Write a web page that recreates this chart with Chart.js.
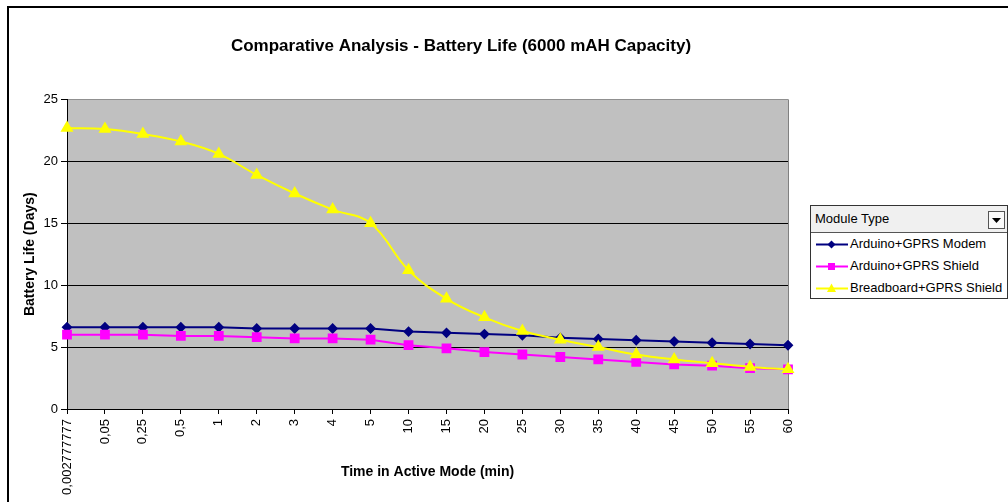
<!DOCTYPE html>
<html>
<head>
<meta charset="utf-8">
<script src="https://cdn.jsdelivr.net/npm/chart.js@4.4.1/dist/chart.umd.min.js"></script>
<style>
    html, body { margin: 0; padding: 0; background: #fff; overflow: hidden; width: 1008px; height: 502px; }
    #moldura { position: absolute; left: 7px; top: 6px; width: 1100px; height: 600px; border-left: 2px solid #000; border-top: 2px solid #000; }
    #grafico { position: absolute; left: 0; top: 0; }
    #legenda { position: absolute; left: 810px; top: 205px; width: 196px; height: 92px; border: 1px solid #333; background: #fff;
        font-family: Arial, "Liberation Sans", sans-serif; font-size: 13px; color: #000; }
    #legenda .cabecalho { height: 26px; line-height: 25px; background: #f0f0f0; border-bottom: 1px solid #555; padding-left: 4px; position: relative; }
    #legenda .botao { position: absolute; right: 2px; top: 5px; width: 15px; height: 16px; border: 1px solid #555; background: #fafafa; }
    #legenda .botao svg { position: absolute; left: 3px; top: 6px; }
    #legenda .item { height: 22px; line-height: 22px; display: flex; align-items: center; padding-left: 5px; }
    #legenda .item svg { margin-right: 2px; }
</style>
</head>
<body>
<div id="moldura"></div>
<canvas id="grafico" width="1008" height="502"></canvas>
<div id="legenda">
    <div class="cabecalho">Module Type<div class="botao"><svg width="9" height="5"><path d="M0 0 L9 0 L4.5 5 Z" fill="#000"/></svg></div></div>
    <div id="itensLegenda"></div>
</div>
<script>
const tempos = ['0,002777777', '0,05', '0,25', '0,5', '1', '2', '3', '4', '5', '10', '15', '20', '25', '30', '35', '40', '45', '50', '55', '60']
const arduinoModem = [6.6, 6.6, 6.6, 6.6, 6.6, 6.5, 6.5, 6.5, 6.5, 6.25, 6.15, 6.05, 5.95, 5.75, 5.65, 5.55, 5.45, 5.35, 5.25, 5.15]
const arduinoShield = [6.0, 6.0, 6.0, 5.9, 5.9, 5.8, 5.7, 5.7, 5.6, 5.15, 4.9, 4.6, 4.4, 4.2, 4.0, 3.8, 3.6, 3.5, 3.3, 3.2]
const breadboardShield = [22.7, 22.6, 22.2, 21.6, 20.6, 18.9, 17.4, 16.1, 15.0, 11.2, 8.9, 7.4, 6.3, 5.6, 5.0, 4.4, 4.0, 3.7, 3.4, 3.2]
const ticksY = [0, 5, 10, 15, 20, 25]

const fonte = 'Arial, "Liberation Sans", sans-serif'

const fundoGrafico = {
    id: 'fundoGrafico',
    afterLayout(chart) {
        // o titulo fica centrado na area toda, nao so no grafico
        const titulo = chart.titleBlock
        if (titulo) {
            titulo.left = 20
            titulo.right = 902
            titulo.width = titulo.right - titulo.left
        }
    },
    beforeDraw(chart) {
        const { ctx, chartArea } = chart
        ctx.save()
        ctx.fillStyle = '#c0c0c0'
        ctx.fillRect(chartArea.left, chartArea.top, chartArea.right - chartArea.left, chartArea.bottom - chartArea.top)
        ctx.strokeStyle = '#808080'
        ctx.lineWidth = 1
        ctx.beginPath()
        ctx.moveTo(chartArea.right + 0.5, chartArea.top)
        ctx.lineTo(chartArea.right + 0.5, chartArea.bottom)
        ctx.stroke()
        ctx.restore()
    }
}

function desenharMarcador(estilo, cor) {
    let forma = ''
    if (estilo === 'rectRot') {
        forma = `<path d="M15.5 6.5 L19.5 10.5 L15.5 14.5 L11.5 10.5 Z" fill="${cor}"/>`
    } else if (estilo === 'rect') {
        forma = `<rect x="12" y="7" width="7" height="7" fill="${cor}"/>`
    } else {
        forma = `<path d="M15.5 5.5 L20 14 L11 14 Z" fill="${cor}"/>`
    }
    return `<svg width="32" height="21"><line x1="0" y1="10.5" x2="32" y2="10.5" stroke="${cor}" stroke-width="2"/>${forma}</svg>`
}

const legendaHtml = {
    id: 'legendaHtml',
    afterUpdate(chart) {
        const lista = document.getElementById('itensLegenda')
        lista.innerHTML = ''
        chart.data.datasets.forEach(ds => {
            const div = document.createElement('div')
            div.className = 'item'
            div.innerHTML = desenharMarcador(ds.pointStyle, ds.borderColor) + `<span>${ds.label}</span>`
            lista.appendChild(div)
        })
    }
}

const ctx = document.getElementById('grafico').getContext('2d')
new Chart(ctx, {
    type: 'line',
    data: {
        labels: tempos,
        datasets: [{
            label: 'Arduino+GPRS Modem',
            data: arduinoModem,
            borderColor: '#000080',
            backgroundColor: '#000080',
            borderWidth: 2,
            pointStyle: 'rectRot',
            pointRadius: 4,
            tension: 0,
            order: 2
        }, {
            label: 'Arduino+GPRS Shield',
            data: arduinoShield,
            borderColor: '#ff00ff',
            backgroundColor: '#ff00ff',
            borderWidth: 2,
            pointStyle: 'rect',
            pointRadius: 5.5,
            tension: 0,
            order: 1
        }, {
            label: 'Breadboard+GPRS Shield',
            data: breadboardShield,
            borderColor: '#ffff00',
            backgroundColor: '#ffff00',
            borderWidth: 2,
            pointStyle: 'triangle',
            pointRadius: 5.5,
            tension: 0.4,
            order: 0
        }]
    },
    options: {
        responsive: false,
        animation: false,
        layout: { padding: { left: 20, right: 220, top: 0, bottom: 0 } },
        plugins: {
            legend: { display: false },
            tooltip: { enabled: false },
            title: {
                display: true,
                text: 'Comparative Analysis - Battery Life (6000 mAH Capacity)',
                color: '#000',
                font: { family: fonte, size: 17, weight: 'bold' },
                padding: { top: 36, bottom: 43 }
            }
        },
        scales: {
            x: {
                afterFit(scale) { scale.height = 93 },
                grid: { drawOnChartArea: false, drawTicks: true, tickLength: 5, color: '#000', tickColor: '#000' },
                border: { display: true, color: '#000', width: 1 },
                ticks: { color: '#000', font: { family: fonte, size: 13 }, maxRotation: 90, minRotation: 90, autoSkip: false, padding: 5 },
                title: {
                    display: true,
                    text: 'Time in Active Mode (min)',
                    color: '#000',
                    font: { family: fonte, size: 14, weight: 'bold' },
                    padding: { top: 21, bottom: 21 }
                }
            },
            y: {
                min: 0,
                max: 25,
                afterFit(scale) { scale.width = 47 },
                afterBuildTicks(scale) { scale.ticks = ticksY.map(v => ({ value: v })) },
                grid: {
                    color: c => (c.tick && c.tick.value === 25) ? '#909090' : '#000',
                    tickColor: '#000',
                    tickLength: 6,
                    lineWidth: 1
                },
                border: { display: true, color: '#000', width: 1 },
                ticks: { color: '#000', font: { family: fonte, size: 13 }, padding: 3 },
                title: {
                    display: true,
                    text: 'Battery Life (Days)',
                    color: '#000',
                    font: { family: fonte, size: 14, weight: 'bold' },
                    padding: { top: 2, bottom: 2 }
                }
            }
        }
    },
    plugins: [fundoGrafico, legendaHtml]
})
</script>
</body>
</html>
